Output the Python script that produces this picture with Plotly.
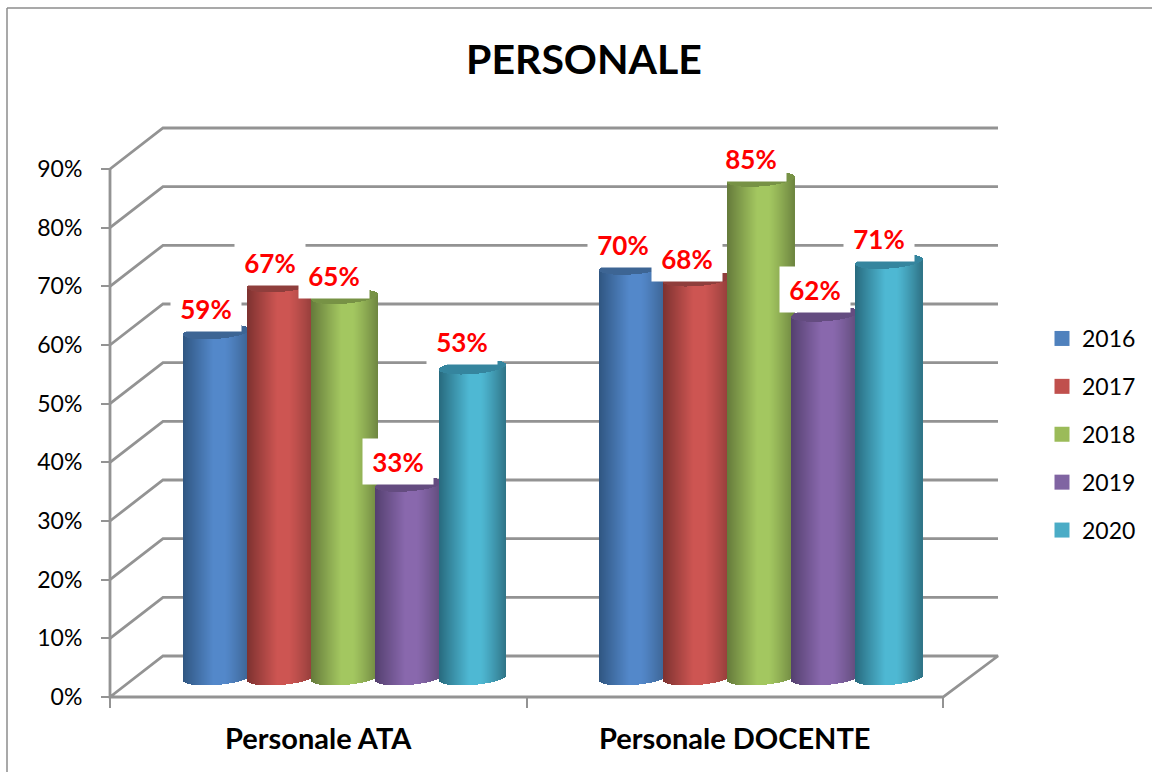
import math
import plotly.graph_objects as go

# ---- data ----
categories = ["Personale ATA", "Personale DOCENTE"]
years = ["2016", "2017", "2018", "2019", "2020"]
values_2016 = [59, 70]
values_2017 = [67, 68]
values_2018 = [65, 85]
values_2019 = [33, 62]
values_2020 = [53, 71]
all_values = [values_2016, values_2017, values_2018, values_2019, values_2020]
y_ticks = [0, 10, 20, 30, 40, 50, 60, 70, 80, 90]
y_tick_labels = ["0%", "10%", "20%", "30%", "40%", "50%", "60%", "70%", "80%", "90%"]

# ---- style ----
legend_colors = ["#4F81BD", "#C0504D", "#9BBB59", "#8064A2", "#4BACC6"]
center_colors = ["#5388CA", "#CD5552", "#A3C760", "#8968AD", "#4EB8D3"]
left_colors = ["#2F5580", "#7C312F", "#64793A", "#533F6E", "#27697D"]
right_colors = ["#3B618F", "#8F3C39", "#6E8540", "#5E4A78", "#2F7386"]
cap_colors = ["#3D6594", "#8F3E3C", "#779245", "#644C80", "#35859E"]
GRID = "#939393"
FONT = "Lato"

W, H = 1152, 772
X0, X1 = 110, 943          # plot floor, pixels
Y0, Y90 = 697, 169
PX_X = (X1 - X0) / 2       # px per category unit
PX_Y = (Y0 - Y90) / 90     # px per percent

# plot area is larger than the floor so the 3-D walls fit inside it
AREA_L, AREA_R, AREA_T, AREA_B = X0 - 4, 1002, 124, Y0 + 4
X_RANGE = [(AREA_L - X0) / PX_X, (AREA_R - X0) / PX_X]
Y_RANGE = [(Y0 - AREA_B) / PX_Y, (Y0 - AREA_T) / PX_Y]
X_DOMAIN = [AREA_L / W, AREA_R / W]
Y_DOMAIN = [1 - AREA_B / H, 1 - AREA_T / H]

DEPTH_X = 53 / PX_X
DEPTH_Y = 41 / PX_Y
BACK_RIGHT = (998 - X0) / PX_X

C0 = 19 / PX_Y             # base centre above the floor front
SKEW = 2.5 / PX_Y
SEMI = 7 / PX_Y
STEP = 64 / PX_X
CYL_PX = 67
GROUP_OFFSET = 73 / PX_X
LABEL_DX = -10.5 / PX_X
label_shift = [[23, 22, 21, 23, 26], [23, 21, 21, 25, 23]]


def hex2rgb(h):
    return [int(h[i:i + 2], 16) for i in (1, 3, 5)]


def mix(a, b, f):
    a, b = hex2rgb(a), hex2rgb(b)
    return "rgb(%d,%d,%d)" % tuple(round(a[i] + (b[i] - a[i]) * f) for i in range(3))


def shade(u, s):
    if u < 0.45:
        f = (u / 0.45) ** 0.95
        return mix(left_colors[s], center_colors[s], f)
    if u < 0.62:
        return center_colors[s]
    f = ((u - 0.62) / 0.38) ** 1.2
    return mix(center_colors[s], right_colors[s], f)


fig = go.Figure()

# gridlines: side wall then back wall, plus the value axis line
for v in y_ticks:
    xs = [0, DEPTH_X, BACK_RIGHT]
    ys = [v, v + DEPTH_Y, v + DEPTH_Y]
    if v == 0:
        xs = xs + [2, 0, 0]
        ys = ys + [0, 0, y_ticks[-1]]
    fig.add_trace(go.Scatter(x=xs, y=ys, mode="lines", line=dict(color=GRID, width=2.8),
                             showlegend=False, hoverinfo="skip"))

# cylinders, on an overlaid axis pair so they sit above the gridlines
for c in range(len(categories)):
    for s in range(len(years)):
        v = all_values[s][c]
        left = c + GROUP_OFFSET + s * STEP
        xs, widths, side_base, side_h, cap_base, cap_h, side_col = [], [], [], [], [], [], []
        for k in range(CYL_PX):
            u = (k + 0.5) / CYL_PX
            t = 2 * u - 1
            r = math.sqrt(max(0.0, 1 - t * t))
            xs.append(left + (k + 0.5) / PX_X)
            widths.append(1 / PX_X)
            side_base.append(C0 + SKEW * t - SEMI * r)
            side_h.append(v)
            cap_base.append(C0 + v + SKEW * t - SEMI * r)
            cap_h.append(2 * SEMI * r)
            side_col.append(shade(u, s))
        fig.add_trace(go.Bar(x=xs, y=side_h, base=side_base, width=widths, xaxis="x2", yaxis="y2",
                             marker=dict(color=side_col, line=dict(width=0)),
                             showlegend=False, hoverinfo="skip"))
        fig.add_trace(go.Bar(x=xs, y=cap_h, base=cap_base, width=widths, xaxis="x2", yaxis="y2",
                             marker=dict(color=cap_colors[s], line=dict(width=0)),
                             showlegend=False, hoverinfo="skip"))

# legend entries
for s, yr in enumerate(years):
    fig.add_trace(go.Scatter(x=[None], y=[None], mode="markers", name=yr, legendgroup=yr,
                             marker=dict(symbol="square", size=15, color=legend_colors[s])))

# data labels
annotations = []
for c in range(len(categories)):
    for s in range(len(years)):
        v = all_values[s][c]
        annotations.append(dict(
            x=c + GROUP_OFFSET + s * STEP + (CYL_PX / 2) / PX_X + LABEL_DX,
            y=C0 + v, yshift=label_shift[c][s], xref="x", yref="y",
            text="<b>%d%%</b>" % v, showarrow=False, width=68, height=43,
            bgcolor="#FFFFFF", font=dict(family=FONT, size=26, color="#FF0000"),
            align="center", valign="middle"))

border = dict(type="line", xref="paper", yref="paper", line=dict(color="#8C8C8C", width=1.5))
fig.update_layout(
    width=W, height=H, margin=dict(l=0, r=0, t=0, b=0, autoexpand=False), autosize=False,
    paper_bgcolor="white", plot_bgcolor="rgba(0,0,0,0)", barmode="overlay",
    bargap=0, font=dict(family=FONT, color="#000000"),
    title=dict(text="<b>PERSONALE</b>", x=584 / W, y=1 - 60 / H, xanchor="center", yanchor="middle",
               font=dict(family=FONT, size=41, color="#000000")),
    xaxis=dict(domain=X_DOMAIN, range=X_RANGE, tickvals=[0.5, 1.5], automargin=False,
               anchor="free", position=1 - Y0 / H,
               ticktext=["<b>%s</b>" % n for n in categories], ticks="",
               showgrid=False, zeroline=False, showline=False,
               tickfont=dict(family=FONT, size=29, color="#000000"), ticklabelstandoff=22,
               minor=dict(tickvals=[0, 1, 2], ticks="outside", ticklen=10, tickwidth=2, tickcolor=GRID,
                          showgrid=False)),
    yaxis=dict(domain=Y_DOMAIN, range=Y_RANGE, tickvals=y_ticks, ticktext=y_tick_labels,
               automargin=False, anchor="free", position=X0 / W,
               ticks="outside", ticklen=9, tickwidth=2, tickcolor=GRID, showgrid=False, zeroline=False,
               showline=False,
               tickfont=dict(family=FONT, size=23, color="#000000"), ticklabelstandoff=14),
    xaxis2=dict(domain=X_DOMAIN, range=X_RANGE, overlaying="x", visible=False, anchor="y2"),
    yaxis2=dict(domain=Y_DOMAIN, range=Y_RANGE, overlaying="y", visible=False, anchor="x2"),
    legend=dict(x=1042 / W, y=1 - 317 / H, xanchor="left", yanchor="top", tracegroupgap=15,
                bgcolor="rgba(0,0,0,0)", font=dict(family=FONT, size=23, color="#000000"),
                itemclick=False, itemdoubleclick=False),
    annotations=annotations,
    shapes=[dict(border, x0=7 / W, x1=7 / W, y0=0, y1=1 - 8 / H),
            dict(border, x0=7 / W, x1=1, y0=1 - 8 / H, y1=1 - 8 / H)],
)

fig.write_html("out.html", post_script="document.body.style.margin='0';", config={"displayModeBar": False})
